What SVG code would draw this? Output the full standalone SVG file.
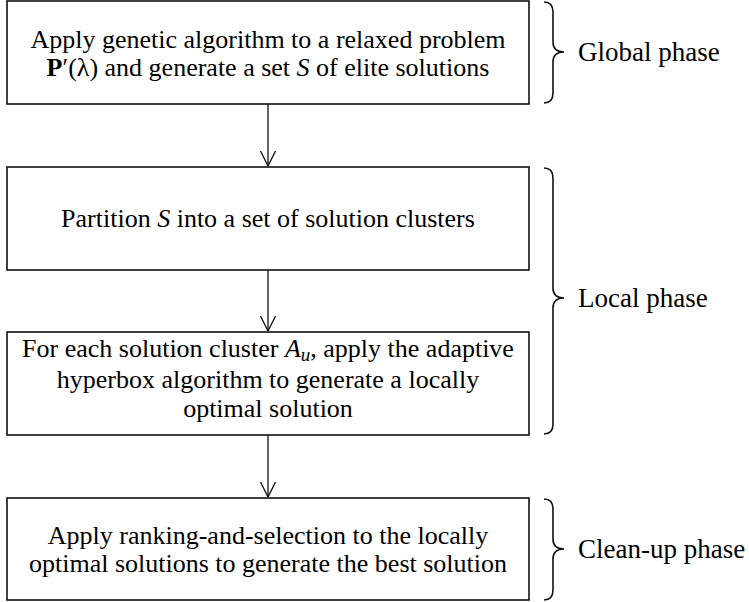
<svg xmlns="http://www.w3.org/2000/svg" width="749" height="602" viewBox="0 0 749 602">
  <style>
    .box { fill: #ffffff; stroke: #111111; stroke-width: 1.6; }
    .t { font-family: "Liberation Serif", "Times New Roman", serif; font-size: 26px; fill: #000000; text-anchor: middle; }
    .lbl { font-family: "Liberation Serif", "Times New Roman", serif; font-size: 27px; fill: #000000; }
    .it { font-style: italic; }
    .bf { font-weight: bold; }
    .conn { stroke: #111111; stroke-width: 1.3; fill: none; }
    .brace { stroke: #111111; stroke-width: 1.6; fill: none; }
  </style>
  <defs>
    <marker id="arr" markerUnits="userSpaceOnUse" markerWidth="18" markerHeight="18" refX="15" refY="7.5" orient="auto">
      <path d="M0,0 L15,7.5 L0,15" fill="none" stroke="#111111" stroke-width="1.3"/>
    </marker>
  </defs>
  <rect width="749" height="602" fill="#ffffff"/>

  <g id="connectors">
    <line class="conn" x1="268" y1="104" x2="268" y2="166" marker-end="url(#arr)"/>
    <line class="conn" x1="268" y1="270" x2="268" y2="331" marker-end="url(#arr)"/>
    <line class="conn" x1="268" y1="435" x2="268" y2="497" marker-end="url(#arr)"/>
  </g>

  <g id="node-global">
    <rect class="box" x="7" y="1" width="522" height="103"/>
    <text class="t" x="268" y="48">Apply genetic algorithm to a relaxed problem</text>
    <text class="t" x="268" y="76"><tspan class="bf">P</tspan>′(λ) and generate a set <tspan class="it">S</tspan> of elite solutions</text>
  </g>

  <g id="node-partition">
    <rect class="box" x="7" y="167" width="522" height="103"/>
    <text class="t" x="268" y="227">Partition <tspan class="it">S</tspan> into a set of solution clusters</text>
  </g>

  <g id="node-hyperbox">
    <rect class="box" x="7" y="332" width="522" height="103"/>
    <text class="t" x="268" y="357">For each solution cluster <tspan class="it">A</tspan><tspan class="it" font-size="19" dy="4">u</tspan><tspan dy="-4">, apply the adaptive</tspan></text>
    <text class="t" x="268" y="388">hyperbox algorithm to generate a locally</text>
    <text class="t" x="268" y="417">optimal solution</text>
  </g>

  <g id="node-cleanup">
    <rect class="box" x="7" y="498" width="522" height="102"/>
    <text class="t" x="268" y="544">Apply ranking-and-selection to the locally</text>
    <text class="t" x="268" y="572">optimal solutions to generate the best solution</text>
  </g>

  <g id="phase-global">
    <path class="brace" d="M544,2 Q553,2 553,12 L553,42 Q553,52 564,52 Q553,52 553,62 L553,93 Q553,103 544,103"/>
    <text class="lbl" x="578" y="61">Global phase</text>
  </g>
  <g id="phase-local">
    <path class="brace" d="M544,168 Q553,168 553,178 L553,288 Q553,298 564,298 Q553,298 553,308 L553,424 Q553,434 544,434"/>
    <text class="lbl" x="578" y="307">Local phase</text>
  </g>
  <g id="phase-cleanup">
    <path class="brace" d="M544,499 Q553,499 553,509 L553,539 Q553,549 564,549 Q553,549 553,559 L553,590 Q553,600 544,600"/>
    <text class="lbl" x="578" y="558">Clean-up phase</text>
  </g>
</svg>
